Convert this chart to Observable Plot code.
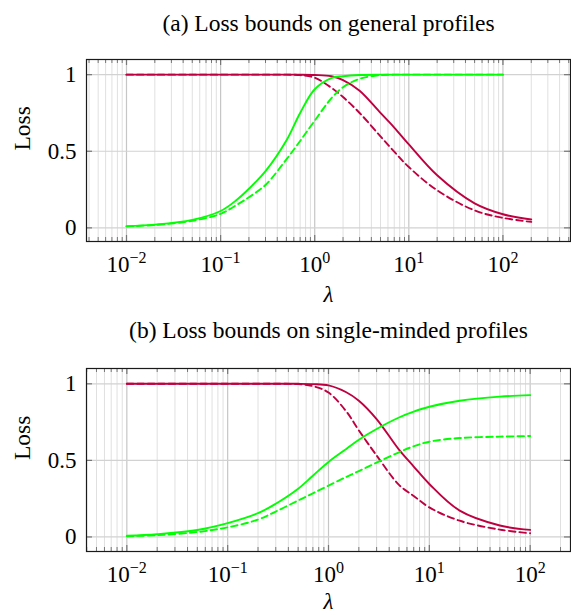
<!DOCTYPE html>
<html><head><meta charset="utf-8">
<script src="https://cdn.jsdelivr.net/npm/d3@7"></script>
<script src="https://cdn.jsdelivr.net/npm/@observablehq/plot@0.6"></script>
<style>
html,body{margin:0;padding:0;background:#fff;}
#wrap{position:relative;width:571px;height:615px;overflow:hidden;}
#wrap svg{display:block;}
</style></head><body><div id="wrap"></div>
<script>
// ---------- Panel (a): general profiles ----------
const titleA = "(a) Loss bounds on general profiles";
const lambdaA = [0.01,0.02,0.05,0.1,0.15,0.2,0.3,0.5,0.7,1,1.5,2,3,5,7,10,20,50,100,200];
const aRedSolid    = [1,1,1,1,1,1,1,1,1,0.998,0.99,0.965,0.895,0.75,0.655,0.545,0.343,0.16,0.089,0.055];
const aRedDashed   = [1,1,1,1,1,1,1,1,0.997,0.98,0.915,0.854,0.75,0.597,0.497,0.397,0.245,0.114,0.065,0.039];
const aGreenSolid  = [0.011,0.021,0.052,0.11,0.185,0.255,0.37,0.57,0.75,0.905,0.978,0.99,0.998,1,1,1,1,1,1,null];
const aGreenDashed = [0.01,0.019,0.046,0.092,0.152,0.2,0.28,0.447,0.567,0.70,0.845,0.918,0.973,0.997,1,1,1,1,1,null];

// ---------- Panel (b): single-minded profiles ----------
const titleB = "(b) Loss bounds on single-minded profiles";
const lambdaB = [0.01,0.02,0.05,0.1,0.2,0.3,0.5,0.7,1,1.5,2,3,5,7,10,20,50,100];
const bRedSolid    = [1,1,1,1,1,1,1,0.998,0.99,0.945,0.89,0.77,0.57,0.46,0.346,0.172,0.075,0.046];
const bRedDashed   = [1,1,1,1,1,1,0.998,0.985,0.943,0.82,0.696,0.532,0.34,0.268,0.193,0.106,0.048,0.024];
const bGreenSolid  = [0.008,0.018,0.045,0.09,0.155,0.217,0.315,0.40,0.49,0.575,0.635,0.705,0.78,0.818,0.85,0.889,0.916,0.926];
const bGreenDashed = [0.005,0.012,0.032,0.063,0.113,0.166,0.238,0.285,0.335,0.392,0.43,0.485,0.553,0.592,0.622,0.646,0.655,0.659];

const yTicks = [0, 0.5, 1];
const yTickLabels = ["0", "0.5", "1"];
const yLabel = "Loss";
const xLabel = "λ";

const PURPLE = "#bf0040", GREEN = "#00ff00";
const FONT = "'Liberation Serif','Times New Roman',serif";

function logTicks(xDom) {
  const out = [];
  const n0 = Math.floor(Math.log10(xDom[0])), n1 = Math.ceil(Math.log10(xDom[1]));
  for (let n = n0; n <= n1; n++) {
    for (let k = 1; k <= 9; k++) {
      const t = Number((k * Math.pow(10, n)).toPrecision(10));
      if (t >= xDom[0] && t <= xDom[1]) out.push({t, major: k === 1, e: n});
    }
  }
  return out;
}

function panel({lam, series, xDom, yDom, height, marginTop, marginBottom, title, titleDy, xLabelDy}) {
  const W = 571, mL = 86, mR = 1;
  const fw = W - mL - mR, fh = height - marginTop - marginBottom;
  const lx0 = Math.log10(xDom[0]), lx1 = Math.log10(xDom[1]);
  const pxPerDec = fw / (lx1 - lx0);
  const yPerPx = (yDom[1] - yDom[0]) / fh;
  const ticks = logTicks(xDom);
  const majors = ticks.filter(d => d.major);
  const minors = ticks.filter(d => !d.major);

  const rows = [];
  for (const s of series) s.values.forEach((v, i) => { if (v != null) rows.push({lam: lam[i], v, key: s.key}); });
  const lineOf = s => Plot.line(rows.filter(r => r.key === s.key), {
    x: "lam", y: "v", stroke: s.color, strokeWidth: 1.9,
    strokeDasharray: s.dashed ? "6.5,4" : null, curve: "catmull-rom"
  });

  const tickStroke = "#777";
  const svg = Plot.plot({
    width: W, height, marginLeft: mL, marginRight: mR, marginTop, marginBottom,
    style: {fontFamily: FONT, background: "white", color: "#000"},
    x: {type: "log", domain: xDom, axis: null},
    y: {domain: yDom, axis: null},
    marks: [
      Plot.ruleX(minors, {x: "t", stroke: "#e0e0e0", strokeWidth: 1}),
      Plot.ruleX(majors, {x: "t", stroke: "#c6c6c6", strokeWidth: 1.2}),
      Plot.ruleY(yTicks, {y: d => d, stroke: "#d2d2d2", strokeWidth: 1.2}),
      // inward tick marks, bottom and top
      Plot.ruleX(minors, {x: "t", y1: yDom[0], y2: yDom[0] + 4 * yPerPx, stroke: tickStroke, strokeWidth: 1}),
      Plot.ruleX(minors, {x: "t", y1: yDom[1], y2: yDom[1] - 4 * yPerPx, stroke: tickStroke, strokeWidth: 1}),
      Plot.ruleX(majors, {x: "t", y1: yDom[0], y2: yDom[0] + 6 * yPerPx, stroke: tickStroke, strokeWidth: 1.2}),
      Plot.ruleX(majors, {x: "t", y1: yDom[1], y2: yDom[1] - 6 * yPerPx, stroke: tickStroke, strokeWidth: 1.2}),
      // inward y tick marks, left and right
      Plot.ruleY(yTicks, {y: d => d, x1: xDom[0], x2: Math.pow(10, lx0 + 6 / pxPerDec), stroke: tickStroke, strokeWidth: 1.2}),
      Plot.ruleY(yTicks, {y: d => d, x1: xDom[1], x2: Math.pow(10, lx1 - 6 / pxPerDec), stroke: tickStroke, strokeWidth: 1.2}),
      ...series.map(lineOf),
      Plot.frame({stroke: "#1a1a1a", strokeWidth: 1.2}),
      // x tick labels
      Plot.text(majors, {x: "t", text: d => "10^" + d.e, frameAnchor: "bottom",
        dy: 30.7, lineAnchor: "bottom", fontSize: 23}),
      // y tick labels
      Plot.text(yTicks, {y: d => d, text: (d, i) => yTickLabels[i], frameAnchor: "left", dx: -10,
        textAnchor: "end", lineAnchor: "middle", fontSize: 23}),
      // axis labels
      Plot.text([yLabel], {text: d => d, frameAnchor: "left", dx: -64, rotate: -90, lineAnchor: "middle", fontSize: 23.5}),
      Plot.text([xLabel], {text: d => d, frameAnchor: "bottom", dy: xLabelDy, lineAnchor: "middle", fontSize: 23, fontStyle: "italic"}),
      // title
      Plot.text([title], {text: d => d, frameAnchor: "top", dy: titleDy, lineAnchor: "bottom", fontSize: 23.5})
    ]
  });
  // superscript exponents on the x tick labels
  svg.querySelectorAll("text").forEach(t => {
    const s = t.textContent;
    if (/^10\^/.test(s)) {
      const exp = s.slice(3).replace("-", "\u2212");
      t.textContent = "";
      const ns = "http://www.w3.org/2000/svg";
      const base = document.createElementNS(ns, "tspan");
      base.textContent = "10";
      const sup = document.createElementNS(ns, "tspan");
      sup.setAttribute("dy", "-0.55em");
      sup.setAttribute("font-size", "16px");
      sup.textContent = exp;
      t.appendChild(base); t.appendChild(sup);
    }
  });
  return svg;
}

const wrap = document.getElementById("wrap");
wrap.appendChild(panel({
  lam: lambdaA,
  series: [
    {key: "rs", values: aRedSolid, color: PURPLE, dashed: false},
    {key: "rd", values: aRedDashed, color: PURPLE, dashed: true},
    {key: "gd", values: aGreenDashed, color: GREEN, dashed: true},
    {key: "gs", values: aGreenSolid, color: GREEN, dashed: false}
  ],
  xDom: [Math.pow(10, -2.425), Math.pow(10, 2.718)], yDom: [-0.089, 1.099],
  height: 310, marginTop: 59, marginBottom: 69, title: titleA, titleDy: -29, xLabelDy: 53
}));
wrap.appendChild(panel({
  lam: lambdaB,
  series: [
    {key: "rs", values: bRedSolid, color: PURPLE, dashed: false},
    {key: "rd", values: bRedDashed, color: PURPLE, dashed: true},
    {key: "gd", values: bGreenDashed, color: GREEN, dashed: true},
    {key: "gs", values: bGreenSolid, color: GREEN, dashed: false}
  ],
  xDom: [Math.pow(10, -2.4), Math.pow(10, 2.4)], yDom: [-0.095, 1.1],
  height: 305, marginTop: 58, marginBottom: 64, title: titleB, titleDy: -30.7, xLabelDy: 50
}));
</script></body></html>
